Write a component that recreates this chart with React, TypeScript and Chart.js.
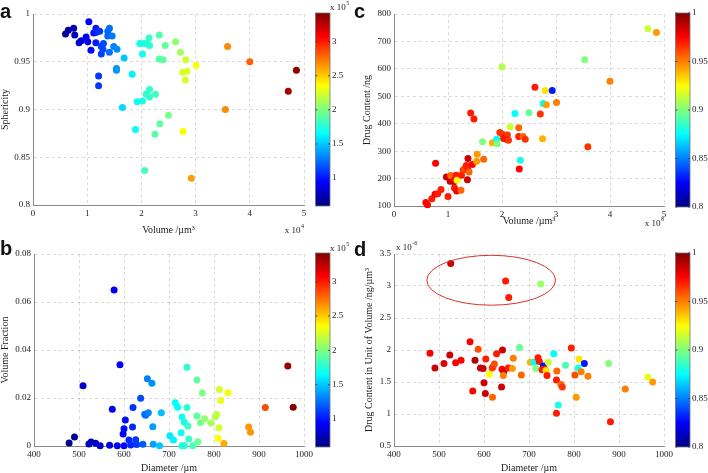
import React, { useEffect, useRef } from 'react';
import { Chart, registerables } from 'chart.js';

Chart.register(...registerables);

const SERIF = '"Liberation Serif", "Times New Roman", serif';
const SANS = '"Liberation Sans", Arial, sans-serif';

// ---------------- Panel a: Volume (x1e4 µm³) vs Sphericity, colour x1e5 ----------------
const aVolume = [0.60, 0.65, 0.75, 0.77, 0.85, 0.89, 0.98, 1.01, 1.03, 1.07, 1.12, 1.16, 1.17, 1.23, 1.16, 1.26, 1.30, 1.26, 1.29, 1.38, 1.41, 1.38, 1.46, 1.41, 1.49, 1.55, 1.54, 1.54, 1.21, 1.21, 1.68, 1.83, 1.65, 1.97, 2.05, 2.11, 2.15, 2.14, 2.02, 2.33, 2.44, 2.63, 2.33, 2.40, 2.72, 2.82, 2.76, 2.84, 2.81, 3.01, 2.15, 2.09, 2.15, 2.26, 1.92, 2.02, 2.50, 2.34, 2.25, 1.89, 2.77, 2.06, 2.92, 3.59, 4.00, 3.55, 4.71, 4.86];
const aSphericity = [0.979, 0.983, 0.985, 0.978, 0.970, 0.972, 0.976, 0.971, 0.992, 0.962, 0.980, 0.985, 0.981, 0.982, 0.970, 0.966, 0.969, 0.958, 0.963, 0.982, 0.985, 0.977, 0.977, 0.960, 0.966, 0.963, 0.943, 0.941, 0.935, 0.925, 0.954, 0.937, 0.902, 0.969, 0.969, 0.969, 0.967, 0.975, 0.958, 0.978, 0.967, 0.971, 0.953, 0.952, 0.960, 0.952, 0.939, 0.940, 0.931, 0.946, 0.921, 0.916, 0.913, 0.916, 0.908, 0.909, 0.894, 0.885, 0.874, 0.879, 0.877, 0.836, 0.828, 0.966, 0.950, 0.900, 0.919, 0.941];
const aColour = [0.66, 0.68, 0.72, 0.74, 0.80, 0.82, 0.90, 0.92, 0.95, 0.97, 1.00, 1.02, 1.03, 1.08, 1.02, 1.12, 1.15, 1.12, 1.14, 1.22, 1.25, 1.22, 1.28, 1.25, 1.30, 1.33, 1.36, 1.36, 1.10, 1.10, 1.50, 1.62, 1.55, 1.70, 1.72, 1.74, 1.76, 1.80, 1.70, 1.88, 1.92, 2.05, 1.88, 1.90, 2.10, 2.22, 2.25, 2.27, 2.25, 2.35, 1.80, 1.78, 1.80, 1.84, 1.70, 1.72, 1.98, 1.92, 1.90, 1.66, 2.36, 1.85, 2.63, 2.68, 2.80, 2.68, 3.30, 3.36];

// ---------------- Panel b: Diameter vs Volume Fraction, colour x1e5 ----------------
const bDiameter = [478, 490, 509, 522, 527, 537, 547, 568, 574, 578, 585, 591, 598, 600, 603, 600, 611, 615, 619, 620, 626, 628, 637, 642, 646, 648, 654, 652, 662, 664, 665, 679, 683, 702, 710, 714, 719, 727, 729, 734, 740, 740, 742, 744, 729, 734, 753, 762, 762, 764, 770, 774, 779, 793, 803, 806, 811, 809, 812, 815, 822, 831, 877, 881, 914, 964, 976];
const bFraction = [0.00125, 0.0038, 0.0251, 0.0008, 0.0017, 0.0011, 0.0001, 0.0003, 0.0153, 0.065, 0.0001, 0.0339, 0.005, 0.0072, 0.0108, 0.0001, 0.0025, 0.0004, 0.0079, 0.016, 0.0026, 0.0006, 0.0199, 0.0007, 0.0132, 0.0128, 0.0139, 0.028, 0.0261, 0.008, 0.0007, 0.0001, 0.0139, 0.0043, 0.0025, 0.018, 0.0161, 0.0055, 0.0121, 0.0099, 0.0328, 0.016, 0.0083, 0.0029, 0.0001, 0.0001, 0.0001, 0.0275, 0.0125, 0.0018, 0.0097, 0.0221, 0.0114, 0.0096, 0.0122, 0.0131, 0.0076, 0.0032, 0.0235, 0.019, 0.001, 0.0222, 0.0079, 0.0057, 0.016, 0.0333, 0.0161];
const bColour = [0.62, 0.66, 0.78, 0.75, 0.76, 0.80, 0.82, 0.86, 0.90, 0.92, 0.90, 0.95, 0.95, 0.97, 0.98, 0.97, 1.05, 1.05, 1.05, 1.08, 1.10, 1.10, 1.15, 1.20, 1.25, 1.25, 1.30, 1.30, 1.35, 1.38, 1.40, 1.50, 1.48, 1.60, 1.62, 1.65, 1.65, 1.68, 1.70, 1.72, 1.78, 1.78, 1.80, 1.80, 1.72, 1.75, 1.85, 1.92, 1.92, 1.95, 1.98, 2.00, 2.05, 2.10, 2.15, 2.18, 2.25, 2.35, 2.25, 2.30, 2.60, 2.35, 2.65, 2.65, 2.85, 3.35, 3.40];

// ---------------- Panel c: Volume (x1e8 µm³) vs Drug Content (ng), colour = sphericity ----------------
const cVolume = [0.59, 0.62, 0.70, 0.76, 0.81, 0.87, 0.77, 0.97, 1.00, 1.04, 1.05, 1.11, 1.13, 1.15, 1.17, 1.12, 1.16, 1.24, 1.25, 1.28, 1.31, 1.34, 1.37, 1.39, 1.37, 1.45, 1.36, 1.42, 1.48, 1.54, 1.53, 1.66, 1.64, 1.82, 1.90, 1.91, 1.96, 2.01, 2.03, 2.07, 2.10, 2.08, 2.12, 2.15, 2.24, 2.31, 2.31, 2.32, 2.34, 2.39, 2.43, 2.50, 2.61, 2.71, 2.75, 2.76, 2.82, 2.80, 2.93, 3.01, 2.00, 3.53, 4.00, 3.59, 4.70, 4.86];
const cDrug = [113, 105, 126, 143, 145, 160, 256, 206, 135, 190, 211, 188, 196, 212, 194, 166, 155, 157, 212, 231, 237, 248, 231, 224, 273, 251, 196, 439, 417, 289, 263, 270, 334, 331, 343, 327, 368, 362, 346, 352, 359, 343, 340, 389, 437, 385, 353, 235, 267, 353, 343, 440, 533, 435, 345, 474, 469, 521, 521, 477, 608, 633, 555, 316, 746, 733];
const cSphericity = [0.975, 0.975, 0.970, 0.975, 0.970, 0.970, 0.975, 0.985, 0.970, 0.985, 0.955, 0.985, 0.975, 0.970, 0.925, 0.970, 0.975, 0.955, 0.970, 0.965, 0.960, 0.970, 0.970, 0.955, 0.985, 0.975, 0.985, 0.970, 0.970, 0.945, 0.945, 0.955, 0.900, 0.940, 0.875, 0.900, 0.965, 0.965, 0.970, 0.970, 0.965, 0.970, 0.965, 0.915, 0.875, 0.955, 0.970, 0.975, 0.880, 0.955, 0.965, 0.895, 0.970, 0.965, 0.940, 0.875, 0.945, 0.930, 0.830, 0.950, 0.910, 0.900, 0.950, 0.965, 0.915, 0.945];

// ---------------- Panel d: Diameter vs Drug content per volume (x1e-6 ng/µm³), colour = sphericity ----------------
const dDiameter = [526, 648, 655, 726, 480, 491, 511, 524, 537, 549, 569, 580, 575, 587, 592, 598, 604, 600, 603, 612, 619, 618, 620, 623, 628, 641, 640, 644, 643, 639, 654, 665, 663, 683, 679, 703, 711, 715, 720, 723, 732, 729, 735, 738, 740, 743, 755, 794, 762, 761, 771, 774, 765, 761, 781, 805, 802, 811, 809, 816, 823, 831, 877, 914, 964, 975, 881];
const dDensity = [3.35, 3.08, 2.82, 3.03, 1.95, 1.72, 1.79, 1.92, 1.80, 1.84, 2.13, 1.84, 1.36, 2.01, 1.72, 1.71, 1.86, 1.49, 1.32, 1.62, 1.26, 1.72, 1.74, 1.78, 1.94, 2.00, 1.70, 1.66, 1.60, 1.42, 1.72, 1.87, 1.71, 1.61, 2.04, 1.81, 1.81, 1.71, 1.88, 1.82, 1.75, 1.69, 1.70, 1.68, 1.60, 1.81, 1.94, 2.03, 1.67, 1.53, 1.46, 1.42, 1.14, 1.01, 1.76, 1.26, 1.61, 1.86, 1.72, 1.66, 1.79, 1.59, 1.79, 1.39, 1.58, 1.50, 0.88];
const dSphericity = [0.985, 0.970, 0.970, 0.905, 0.975, 0.985, 0.980, 0.985, 0.975, 0.975, 0.975, 0.990, 0.975, 0.960, 0.985, 0.985, 0.970, 0.985, 0.985, 0.925, 0.955, 0.960, 0.965, 0.960, 0.970, 0.985, 0.975, 0.985, 0.950, 0.985, 0.970, 0.950, 0.945, 0.955, 0.895, 0.940, 0.875, 0.900, 0.970, 0.970, 0.830, 0.970, 0.970, 0.930, 0.970, 0.915, 0.875, 0.970, 0.955, 0.970, 0.955, 0.965, 0.880, 0.970, 0.890, 0.945, 0.960, 0.930, 0.880, 0.950, 0.830, 0.950, 0.900, 0.950, 0.920, 0.945, 0.970];
const dEllipseCentre = [616, 3.09];
const dEllipseRadii = [143, 0.39];

// ---------------- colour bars ----------------
const cbTicksAB = [1, 1.5, 2, 2.5, 3];
const cbRangeAB = [0.59, 3.42];
const cbTicksCD = [0.8, 0.85, 0.9, 0.95, 1];
const cbRangeCD = [0.8, 1.0];

function jet(t: number): string {
  const cl = (v: number) => Math.max(0, Math.min(1, v));
  const r = cl(Math.min(4 * t - 1.5, -4 * t + 4.5));
  const g = cl(Math.min(4 * t - 0.5, -4 * t + 3.5));
  const b = cl(Math.min(4 * t + 0.5, -4 * t + 2.5));
  return `rgb(${Math.round(r * 255)},${Math.round(g * 255)},${Math.round(b * 255)})`;
}

function fmt(v: any) {
  return String(Math.round(Number(v) * 1000) / 1000);
}

function drawPow(ctx: CanvasRenderingContext2D, x: number, baseline: number, exp: string, alignRight: boolean) {
  ctx.save();
  ctx.fillStyle = '#222';
  ctx.textBaseline = 'alphabetic';
  ctx.textAlign = 'left';
  ctx.font = `9px ${SERIF}`;
  const base = 'x 10';
  const bw = ctx.measureText(base).width;
  ctx.font = `6px ${SERIF}`;
  const ew = ctx.measureText(exp).width;
  const x0 = alignRight ? x - bw - ew - 0.5 : x;
  ctx.font = `9px ${SERIF}`;
  ctx.fillText(base, x0, baseline);
  ctx.font = `6px ${SERIF}`;
  ctx.fillText(exp, x0 + bw + 0.5, baseline - 5);
  ctx.restore();
}

type Spec = {
  letter: string;
  letterY: number;
  left: number;
  top: number;
  w: number;
  h: number;
  pad: { left: number; top: number; right: number; bottom: number };
  yW: number;
  xH: number;
  xs: number[];
  ys: number[];
  cs: number[];
  xMin: number;
  xMax: number;
  xStep: number;
  yMin: number;
  yMax: number;
  yStep: number;
  xTitle: string;
  yTitle: string;
  xTitlePad: number;
  yTitlePad: number;
  cbX: number;
  cbRange: number[];
  cbTicks: number[];
  extra: (chart: any) => void;
};

const GRID = 'rgba(0,0,0,0.14)';
const AXIS = '#8a8a8a';
const TXT = '#222';

function makeConfig(s: Spec): any {
  const [cMin, cMax] = s.cbRange;
  const overlay = {
    id: 'overlay' + s.letter,
    afterDraw(chart: any) {
      const ctx: CanvasRenderingContext2D = chart.ctx;
      const area = chart.chartArea;
      const top = area.top - 1;
      const bottom = area.bottom + 1;
      const cbW = 14.5;
      ctx.save();
      const grad = ctx.createLinearGradient(0, bottom, 0, top);
      for (let i = 0; i <= 64; i++) grad.addColorStop(i / 64, jet(i / 64));
      ctx.fillStyle = grad;
      ctx.fillRect(s.cbX, top, cbW, bottom - top);
      ctx.strokeStyle = '#777';
      ctx.lineWidth = 0.8;
      ctx.strokeRect(s.cbX, top, cbW, bottom - top);
      ctx.font = `9px ${SERIF}`;
      ctx.fillStyle = TXT;
      ctx.textAlign = 'left';
      ctx.textBaseline = 'middle';
      for (const t of s.cbTicks) {
        const y = bottom - ((t - cMin) / (cMax - cMin)) * (bottom - top);
        ctx.strokeStyle = '#333';
        ctx.beginPath();
        ctx.moveTo(s.cbX, y);
        ctx.lineTo(s.cbX + 2, y);
        ctx.moveTo(s.cbX + cbW - 2, y);
        ctx.lineTo(s.cbX + cbW, y);
        ctx.stroke();
        ctx.fillText(fmt(t), s.cbX + cbW + 2, y);
      }
      // panel letter
      ctx.font = `bold 20px ${SANS}`;
      ctx.fillStyle = '#111';
      ctx.textBaseline = 'alphabetic';
      ctx.fillText(s.letter, 0, s.letterY);
      ctx.restore();
      s.extra(chart);
    },
  };
  const tickFont = { family: SERIF, size: 9 };
  const titleFont = { family: SERIF, size: 10, lineHeight: 1 };
  return {
    type: 'scatter',
    data: {
      datasets: [
        {
          data: s.xs.map((v, i) => ({ x: v, y: s.ys[i] })),
          pointBackgroundColor: s.cs.map((v) => jet((v - cMin) / (cMax - cMin))),
          pointBorderWidth: 0,
          pointRadius: 3.5,
          pointHoverRadius: 3.5,
          clip: false,
        },
      ],
    },
    options: {
      responsive: false,
      animation: false,
      events: [],
      layout: { padding: s.pad },
      plugins: { legend: { display: false }, tooltip: { enabled: false } },
      scales: {
        x: {
          type: 'linear',
          min: s.xMin,
          max: s.xMax,
          afterFit: (sc: any) => {
            sc.height = s.xH;
          },
          ticks: { stepSize: s.xStep, autoSkip: false, maxRotation: 0, font: tickFont, color: TXT, padding: 3, callback: fmt },
          grid: { color: GRID, lineWidth: 1, drawTicks: false },
          border: { display: true, color: AXIS, width: 1, dash: [3, 3] },
          title: { display: true, text: s.xTitle, font: titleFont, color: TXT, padding: { top: 0, bottom: s.xTitlePad } },
        },
        y: {
          type: 'linear',
          min: s.yMin,
          max: s.yMax,
          afterFit: (sc: any) => {
            sc.width = s.yW;
          },
          ticks: { stepSize: s.yStep, autoSkip: false, font: tickFont, color: TXT, padding: 3, callback: fmt },
          grid: { color: GRID, lineWidth: 1, drawTicks: false },
          border: { display: true, color: AXIS, width: 1, dash: [3, 3] },
          title: { display: true, text: s.yTitle, font: titleFont, color: TXT, padding: { top: s.yTitlePad, bottom: 0 } },
        },
      },
    },
    plugins: [overlay],
  };
}

const specs: Spec[] = [
  {
    letter: 'a', letterY: 18, left: 0, top: 0, w: 354, h: 236,
    pad: { left: 0, top: 14, right: 50, bottom: 0 }, yW: 33, xH: 31,
    xs: aVolume, ys: aSphericity, cs: aColour,
    xMin: 0, xMax: 5, xStep: 1, yMin: 0.8, yMax: 1, yStep: 0.05,
    xTitle: 'Volume /µm³', yTitle: 'Sphericity', xTitlePad: 1, yTitlePad: 0,
    cbX: 315.5, cbRange: cbRangeAB, cbTicks: cbTicksAB,
    extra: (chart) => {
      drawPow(chart.ctx, chart.chartArea.right, 233, '4', true);
      drawPow(chart.ctx, 330, 10, '5', false);
    },
  },
  {
    letter: 'c', letterY: 18, left: 354, top: 0, w: 354, h: 236,
    pad: { left: 0, top: 14, right: 44, bottom: 0 }, yW: 40, xH: 30,
    xs: cVolume, ys: cDrug, cs: cSphericity,
    xMin: 0, xMax: 5, xStep: 1, yMin: 100, yMax: 800, yStep: 100,
    xTitle: 'Volume /µm³', yTitle: 'Drug Content /ng', xTitlePad: 10, yTitlePad: 8,
    cbX: 321.5, cbRange: cbRangeCD, cbTicks: cbTicksCD,
    extra: (chart) => {
      drawPow(chart.ctx, chart.chartArea.right, 226, '8', true);
    },
  },
  {
    letter: 'b', letterY: 19, left: 0, top: 236, w: 354, h: 237,
    pad: { left: 0, top: 18, right: 50, bottom: 0 }, yW: 34, xH: 27,
    xs: bDiameter, ys: bFraction, cs: bColour,
    xMin: 400, xMax: 1000, xStep: 100, yMin: 0, yMax: 0.08, yStep: 0.02,
    xTitle: 'Diameter /µm', yTitle: 'Volume Fraction', xTitlePad: 0, yTitlePad: 0,
    cbX: 315.5, cbRange: cbRangeAB, cbTicks: cbTicksAB,
    extra: (chart) => {
      drawPow(chart.ctx, 330, 15, '5', false);
    },
  },
  {
    letter: 'd', letterY: 20, left: 354, top: 236, w: 354, h: 237,
    pad: { left: 0, top: 18, right: 44, bottom: 0 }, yW: 40, xH: 27,
    xs: dDiameter, ys: dDensity, cs: dSphericity,
    xMin: 400, xMax: 1000, xStep: 100, yMin: 0.5, yMax: 3.5, yStep: 0.5,
    xTitle: 'Diameter /µm', yTitle: 'Drug Content in Unit of Volume /ng/µm³', xTitlePad: 0, yTitlePad: 10,
    cbX: 321.5, cbRange: cbRangeCD, cbTicks: cbTicksCD,
    extra: (chart) => {
      const ctx: CanvasRenderingContext2D = chart.ctx;
      const xs = chart.scales.x;
      const ys = chart.scales.y;
      const cx = xs.getPixelForValue(dEllipseCentre[0]);
      const cy = ys.getPixelForValue(dEllipseCentre[1]);
      const rx = Math.abs(xs.getPixelForValue(dEllipseCentre[0] + dEllipseRadii[0]) - cx);
      const ry = Math.abs(ys.getPixelForValue(dEllipseCentre[1] + dEllipseRadii[1]) - cy);
      ctx.save();
      ctx.strokeStyle = '#d8322c';
      ctx.lineWidth = 1;
      ctx.beginPath();
      ctx.ellipse(cx, cy, rx, ry, 0, 0, Math.PI * 2);
      ctx.stroke();
      ctx.restore();
      drawPow(ctx, chart.chartArea.left + 2, 13.5, '-6', false);
    },
  },
];

function Panel({ spec }: { spec: Spec }) {
  const ref = useRef<HTMLCanvasElement>(null);
  useEffect(() => {
    if (!ref.current) return;
    const chart = new Chart(ref.current, makeConfig(spec));
    return () => chart.destroy();
  }, [spec]);
  return (
    <canvas
      ref={ref}
      width={spec.w}
      height={spec.h}
      style={{ position: 'absolute', left: spec.left, top: spec.top, width: spec.w, height: spec.h, display: 'block' }}
    />
  );
}

export default function App() {
  return (
    <div style={{ position: 'fixed', left: 0, top: 0, width: 708, height: 473, background: '#fff', overflow: 'hidden' }}>
      {specs.map((s) => (
        <Panel key={s.letter} spec={s} />
      ))}
    </div>
  );
}
